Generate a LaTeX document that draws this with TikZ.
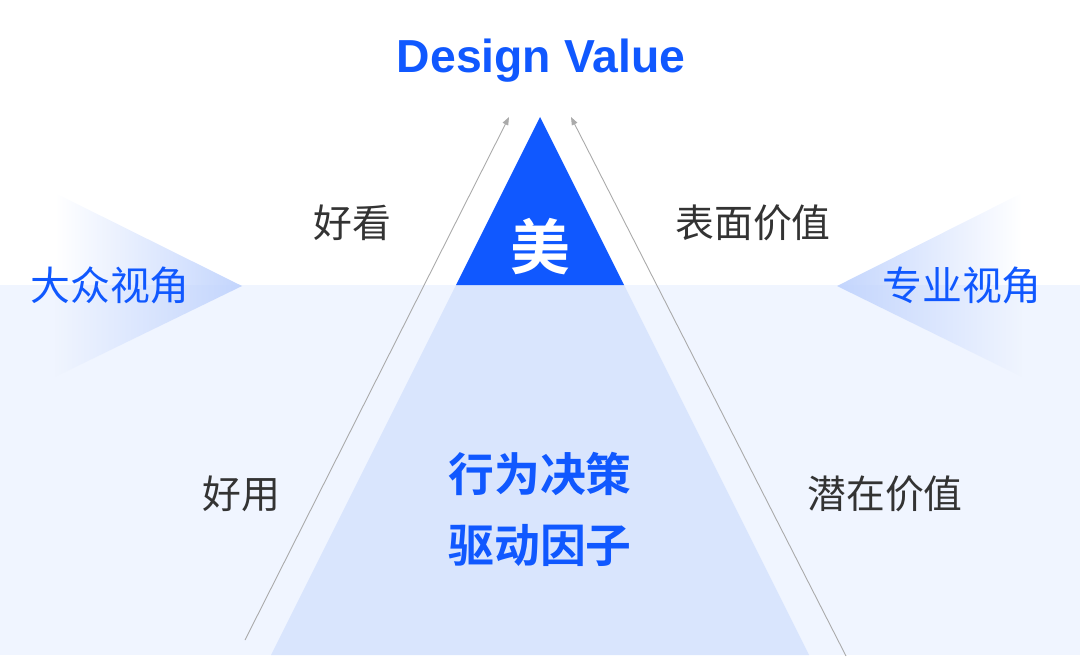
\documentclass[tikz,border=0pt]{standalone}
\usepackage{fontspec}
\setsansfont{Liberation Sans}
\newfontfamily\cjk{Noto Sans CJK SC}
\newfontfamily\cjkbold{Noto Sans CJK SC Bold}
\usetikzlibrary{shapes,arrows,arrows.meta,calc,positioning,fadings}
\definecolor{valueblue}{HTML}{1058FF}
\definecolor{seablue}{HTML}{F0F5FF}
\definecolor{deepblue}{HTML}{D9E5FD}
\definecolor{wedgeblue}{HTML}{C3D5FD}
\definecolor{labelgray}{HTML}{333333}
\definecolor{linegray}{HTML}{AAAAAA}
\tikzfading[name=fadeleft, left color=transparent!100, right color=transparent!0]
\tikzfading[name=faderight, left color=transparent!0, right color=transparent!100]
\tikzstyle{plain} = [text=labelgray, font=\cjk\fontsize{39}{44}\selectfont, inner sep=0pt]
\tikzstyle{view} = [text=valueblue, font=\cjk\fontsize{40}{44}\selectfont, inner sep=0pt]
\tikzstyle{core} = [text=valueblue, font=\cjkbold\fontsize{46}{50}\selectfont, inner sep=0pt]
\tikzstyle{line} = [draw=linegray, line width=0.9pt, -{Triangle[length=8bp, width=6bp]}]

\begin{document}
\begin{tikzpicture}[x=1bp, y=-1bp]
	\useasboundingbox (0,0) rectangle (1080,658);
	% water line and below
	\fill [seablue] (0,285) rectangle (1080,655);
	\fill [wedgeblue, path fading=fadeleft] (55,193) -- (242,286) -- (55,377) -- cycle;
	\fill [wedgeblue, path fading=faderight] (1022,193) -- (837,286) -- (1022,377) -- cycle;
	\fill [deepblue] (456,285) -- (624,285) -- (809,655) -- (271,655) -- cycle;
	\fill [valueblue] (540,117) -- (624,285) -- (456,285) -- cycle;

	\coordinate (lbot) at (245,640);
	\coordinate (ltop) at (509,117);
	\coordinate (rbot) at (846,656);
	\coordinate (rtop) at (571,117);
	\path [line] (lbot) -- (ltop);
	\path [line] (rbot) -- (rtop);

	\node [text=valueblue, font=\sffamily\bfseries\fontsize{46.5}{50}\selectfont, inner sep=0pt](title) at (541,61){Design Value};
	\node [text=white, font=\cjkbold\fontsize{60}{64}\selectfont, inner sep=0pt](mei) at (540,247){美};
	\node [plain](haokan) at (352,223){好看};
	\node [plain](biaomian) at (753,223){表面价值};
	\node [plain](haoyong) at (241,494){好用};
	\node [plain](qianzai) at (885,494){潜在价值};
	\node [view](dazhong) at (110,285){大众视角};
	\node [view](zhuanye) at (962,285){专业视角};
	\node [core](xingwei) at (540,474){行为决策};
	\node [core, below=28bp of xingwei](qudong){驱动因子};
\end{tikzpicture}
\end{document}
